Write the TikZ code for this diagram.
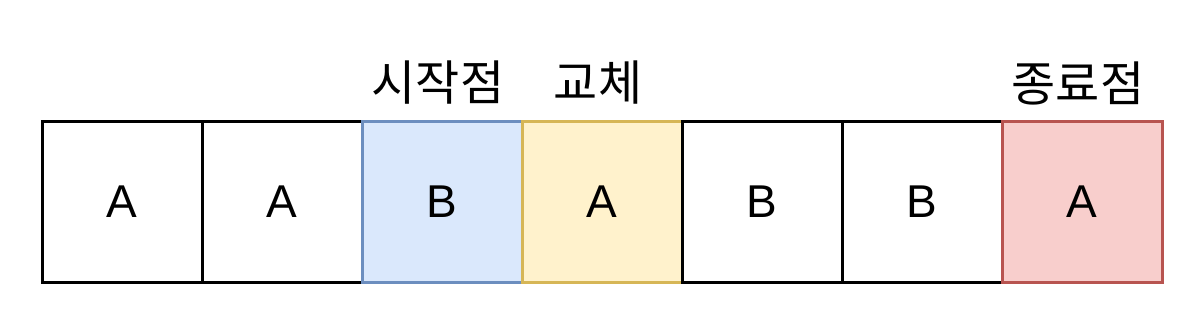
\documentclass[tikz,border=0pt]{standalone}
\usepackage{fontspec}
\setmainfont{Liberation Sans}
\newfontfamily\krfont{Noto Sans CJK KR}
\usetikzlibrary{positioning}
\definecolor{startfill}{HTML}{DAE8FC}
\definecolor{startline}{HTML}{6C8EBF}
\definecolor{swapfill}{HTML}{FFF2CC}
\definecolor{swapline}{HTML}{D6B656}
\definecolor{endfill}{HTML}{F8CECC}
\definecolor{endline}{HTML}{B85450}
\tikzset{
  cell/.style={draw=black, fill=white, line width=3pt, minimum size=160pt, inner sep=0pt, outer sep=0pt,
    font=\fontsize{46}{54}\selectfont},
  st/.style={cell, fill=startfill, draw=startline},
  sw/.style={cell, fill=swapfill, draw=swapline},
  en/.style={cell, fill=endfill, draw=endline},
  lbl/.style={font=\krfont\fontsize{48}{56}\selectfont, inner sep=0pt, yshift=39pt},
}

\begin{document}
\begin{tikzpicture}[x=1pt, y=1pt, node distance=0pt]
    \useasboundingbox (0,0) rectangle (1204,324);
    % array cells
    \node[cell] (c1) at (122,122) {A};
    \node[cell, right=of c1] (c2) {A};
    \node[st, right=of c2] (c3) {B};
    \node[sw, right=of c3] (c4) {A};
    \node[cell, right=of c4] (c5) {B};
    \node[cell, right=of c5] (c6) {B};
    \node[en, right=of c6] (c7) {A};
    % labels
    \node[lbl, xshift=-4pt] (start) at (c3.north) {시작점};
    \node[lbl, xshift=-4pt] (swap) at (c4.north) {교체};
    \node[lbl, xshift=-4pt] (stop) at (c7.north) {종료점};
\end{tikzpicture}
\end{document}
